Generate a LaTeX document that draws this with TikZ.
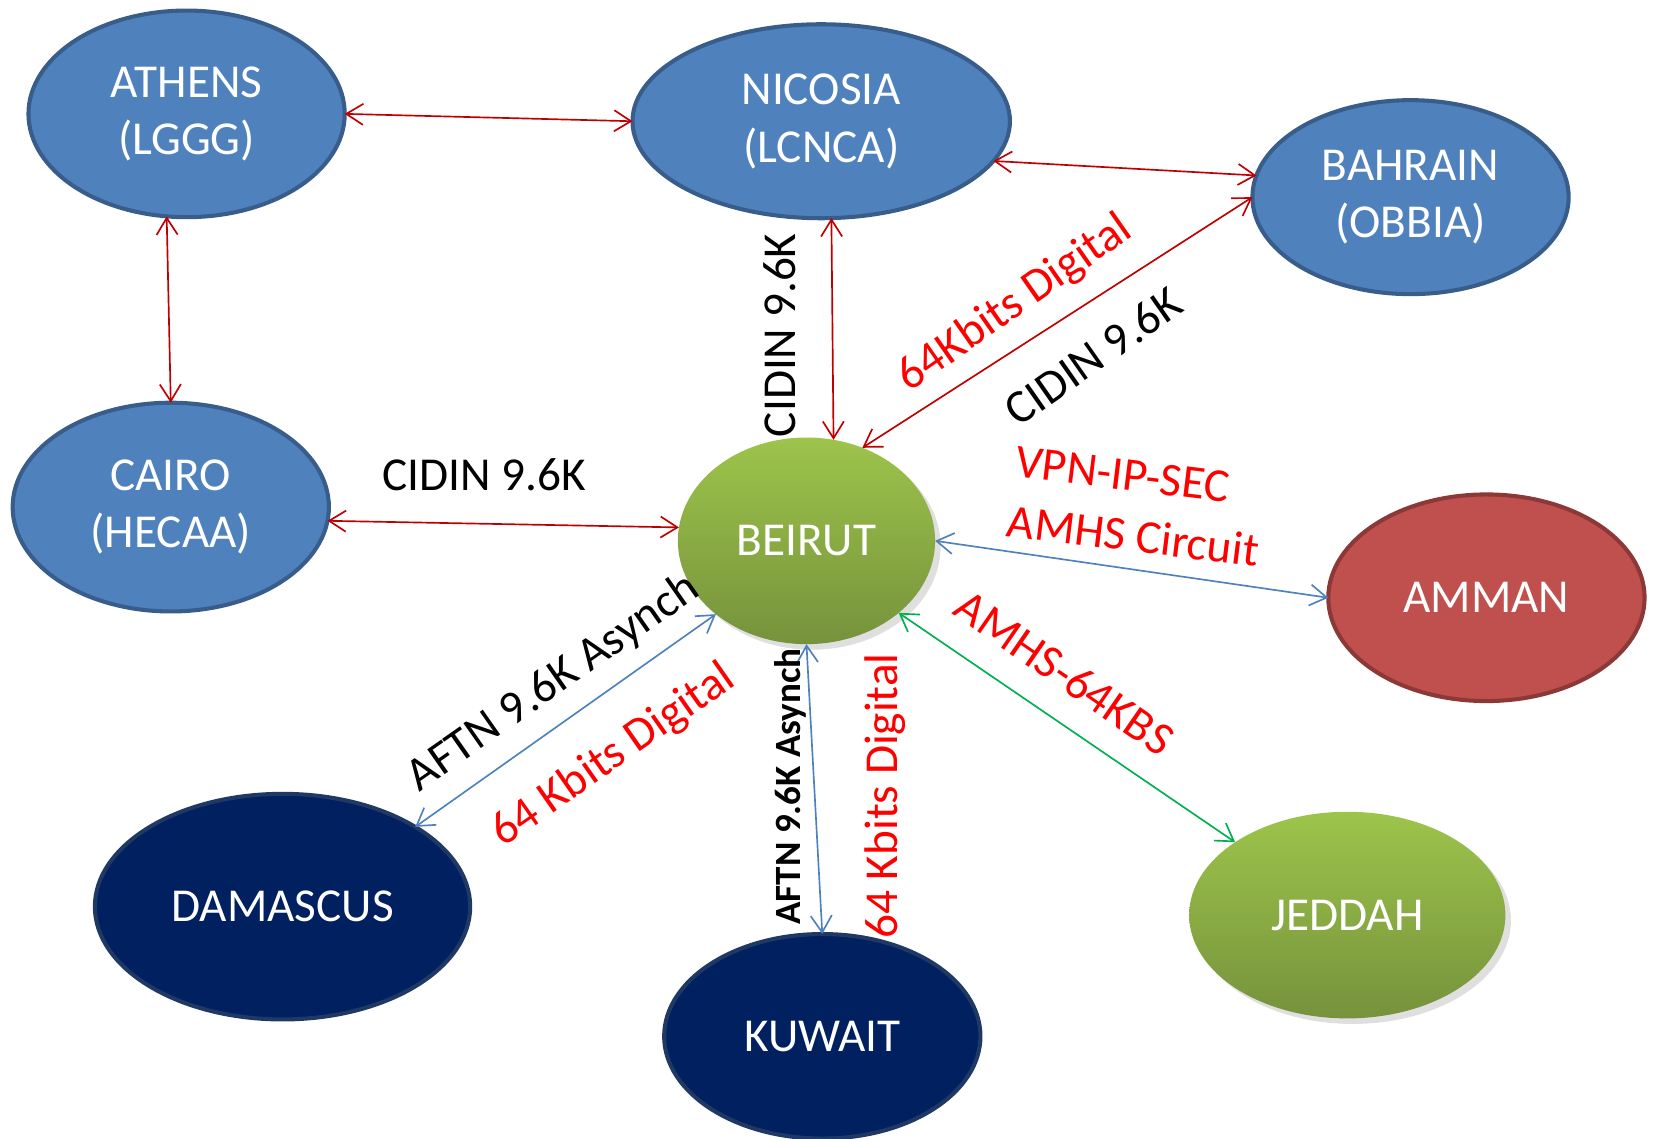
\documentclass[tikz,border=0pt]{standalone}
\usepackage{fontspec}
\setmainfont{Carlito}
\usetikzlibrary{shapes.geometric,arrows.meta,shadows}
\definecolor{nodeblue}{HTML}{4F81BD}
\definecolor{blueedge}{HTML}{385D8A}
\definecolor{navy}{HTML}{002060}
\definecolor{navyedge}{HTML}{1F3864}
\definecolor{ammanred}{HTML}{C0504D}
\definecolor{ammanedge}{HTML}{8C3836}
\definecolor{greentop}{HTML}{9DC44B}
\definecolor{greenbot}{HTML}{76923C}
\definecolor{linkred}{HTML}{C00000}
\definecolor{linkblue}{HTML}{4F81BD}
\definecolor{linkgreen}{HTML}{00B050}
\begin{document}
\begin{tikzpicture}[x=0.02cm,y=-0.02cm,
  city/.style={ellipse,inner sep=0pt,outer sep=0pt,text=white,align=center,
    font=\fontsize{25.5}{31}\selectfont},
  bluecity/.style={city,fill=nodeblue,draw=blueedge,line width=2.2pt},
  navycity/.style={city,fill=navy,draw=navyedge,line width=2.2pt},
  greencity/.style={city,top color=greentop,bottom color=greenbot,
    drop shadow={opacity=0.25,shadow xshift=3pt,shadow yshift=-3pt}},
  link/.style={line width=0.9pt,{Straight Barb[length=3.2mm,width=4mm]}-{Straight Barb[length=3.2mm,width=4mm]}},
  lbl/.style={font=\fontsize{25.5}{30}\selectfont,inner sep=0pt},
]
\useasboundingbox (0,0) rectangle (1568,1080);

\node[bluecity,minimum width=300*0.02cm,minimum height=196*0.02cm] (ath) at (177,108) {ATHENS\\(LGGG)};
\node[bluecity,minimum width=358*0.02cm,minimum height=184*0.02cm] (nic) at (779,115) {NICOSIA\\(LCNCA)};
\node[bluecity,minimum width=300*0.02cm,minimum height=184*0.02cm] (bah) at (1338,187) {BAHRAIN\\(OBBIA)};
\node[bluecity,minimum width=300*0.02cm,minimum height=198*0.02cm] (cai) at (162,481) {CAIRO\\(HECAA)};
\node[greencity,minimum width=244*0.02cm,minimum height=196*0.02cm] (bei) at (765,513) {BEIRUT};
\node[city,fill=ammanred,draw=ammanedge,line width=2.2pt,minimum width=300*0.02cm,minimum height=196*0.02cm] (amm) at (1410,567) {AMMAN};
\node[navycity,minimum width=356*0.02cm,minimum height=214*0.02cm] (dam) at (268,860) {DAMASCUS};
\node[navycity,minimum width=300*0.02cm,minimum height=194*0.02cm] (kuw) at (780,983) {KUWAIT};
\node[greencity,minimum width=300*0.02cm,minimum height=196*0.02cm] (jed) at (1278,868) {JEDDAH};

\draw[link,linkred] (ath.0) -- (nic.180);
\draw[link,linkred] (nic.-13) -- (bah.172);
\draw[link,linkred] (ath.-101.6) -- (cai.90);
\draw[link,linkred] (nic.-84) -- (bei.75);
\draw[link,linkred] (bei.59) -- (bah.180);
\draw[link,linkred] (cai.-5) -- (bei.174.6);
\draw[link,linkblue] (bei.0) -- (amm.180);
\draw[link,linkblue] (bei.219.5) -- (dam.31);
\draw[link,linkblue] (bei.-90) -- (kuw.90);
\draw[link,linkgreen] (bei.-38.5) -- (jed.147);

\node[lbl] (l1) at (459,450) {CIDIN 9.6K};
\node[lbl,rotate=90] (l2) at (740,318) {CIDIN 9.6K};
\node[lbl,text=red,rotate=35] (l3) at (963,288) {64Kbits Digital};
\node[lbl,rotate=35] (l4) at (1037,338) {CIDIN 9.6K};
\node[lbl,text=red,rotate=-7] (l5) at (1065,450) {VPN-IP-SEC};
\node[lbl,text=red,rotate=-7] (l6) at (1075,508) {AMHS Circuit};
\node[lbl,text=red,rotate=-34.6] (l7) at (1010,638) {AMHS-64KBS};
\node[lbl,rotate=35] (l8) at (525,648) {AFTN 9.6K Asynch};
\node[lbl,text=red,rotate=35] (l9) at (582,717) {64 Kbits Digital};
\node[lbl,rotate=90,font=\fontsize{20}{24}\selectfont\bfseries] (l10) at (750,746) {AFTN 9.6K Asynch};
\node[lbl,text=red,rotate=90] (l11) at (840,755) {64 Kbits Digital};
\end{tikzpicture}
\end{document}
